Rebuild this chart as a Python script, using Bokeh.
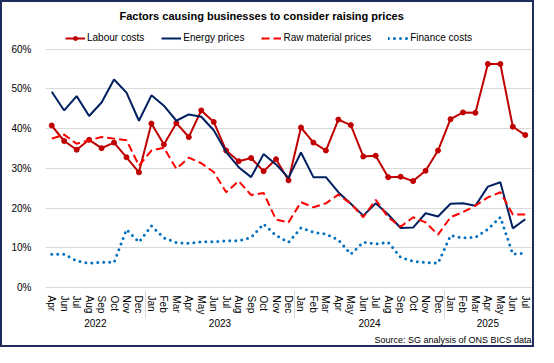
from bokeh.plotting import figure
from bokeh.models import (FactorRange, ColumnDataSource, Legend, LegendItem, Title,
                          FixedTicker, PrintfTickFormatter, Range1d)
from bokeh.embed import file_html
from bokeh.resources import INLINE

FONT = "Liberation Sans"

years = ["2022"] * 8 + ["2023"] * 12 + ["2024"] * 12 + ["2025"] * 7
months = (["Apr", "Jun", "Jul", "Aug", "Sep", "Oct", "Nov", "Dec"]
          + ["Jan", "Feb", "Mar", "Apr", "May", "Jun", "Jul", "Aug", "Sep", "Oct", "Nov", "Dec"]
          + ["Jan", "Feb", "Mar", "Apr", "May", "Jun", "Jul", "Aug", "Sep", "Oct", "Nov", "Dec"]
          + ["Jan", "Feb", "Mar", "Apr", "May", "Jun", "Jul"])

labour = [40.8, 36.9, 34.7, 37.2, 35.1, 36.5, 32.8, 29.0,
          41.3, 36.0, 41.4, 37.9, 44.6, 41.7, 34.5, 31.8, 32.6, 29.3, 32.3, 27.0,
          40.3, 36.5, 34.5, 42.3, 40.9, 33.0, 33.2, 27.8, 27.9, 26.8, 29.4, 34.5,
          42.4, 44.1, 44.0, 56.3, 56.3, 40.5, 38.4]
energy = [49.3, 44.6, 48.2, 43.2, 46.6, 52.4, 49.1, 42.0,
          48.4, 45.8, 42.0, 43.6, 43.0, 39.6, 34.1, 30.3, 27.8, 33.6, 31.0, 27.6,
          34.0, 27.8, 27.8, 24.0, 21.1, 18.1, 21.2, 18.4, 15.0, 15.1, 18.7, 17.9,
          21.1, 21.2, 20.6, 25.4, 26.5, 14.9, 17.2]
raw = [37.5, 38.5, 36.2, 37.1, 37.9, 37.5, 37.1, 30.7,
       34.5, 35.2, 29.9, 32.7, 31.3, 29.1, 24.0, 26.8, 23.3, 23.8, 17.1, 16.4,
       21.5, 20.2, 21.2, 23.4, 21.1, 17.7, 22.1, 17.7, 15.3, 17.7, 16.4, 13.3,
       17.7, 19.0, 20.6, 22.7, 24.0, 18.4, 18.4]
finance = [8.4, 8.4, 6.7, 6.1, 6.4, 6.3, 14.6, 11.4,
           15.5, 12.5, 11.3, 11.1, 11.5, 11.5, 11.8, 11.8, 12.6, 16.0, 13.1, 11.4,
           15.0, 13.9, 13.5, 12.0, 8.4, 11.4, 11.0, 11.4, 7.6, 6.6, 6.3, 6.1,
           13.1, 12.5, 12.6, 14.7, 17.7, 8.4, 8.6]
y_ticks = [0, 10, 20, 30, 40, 50, 60]

x = list(zip(years, months))
src = ColumnDataSource(dict(x=x, labour=labour, energy=energy, raw=raw, finance=finance))

p = figure(width=530, height=343, output_backend="svg", toolbar_location=None,
           x_range=FactorRange(factors=x, group_padding=0, range_padding=0),
           y_range=Range1d(0, 67),
           min_border_left=43, min_border_right=5, min_border_top=19, min_border_bottom=10)
p.styles = {"border": "2px solid #1F2D5C", "box-sizing": "content-box"}
p.outline_line_color = None
p.background_fill_color = "white"
p.border_fill_color = "white"

p.title.text = "Factors causing businesses to consider raising prices"
p.title.text_font = FONT
p.title.text_font_size = "11px"
p.title.text_font_style = "bold"
p.title.align = "left"
p.title.offset = 74
p.title.standoff = 0
p.title.text_color = "black"

p.xgrid.visible = False
p.ygrid.grid_line_color = "#D9D9D9"
p.ygrid.grid_line_width = 1

ax = p.xaxis[0]
ax.axis_line_color = "#D9D9D9"
ax.major_tick_line_color = None
ax.minor_tick_line_color = None
ax.major_label_orientation = "vertical"
ax.major_label_text_font = FONT
ax.major_label_text_font_size = "10px"
ax.major_label_text_color = "black"
ax.major_label_standoff = 2
ax.group_text_font = FONT
ax.group_text_font_size = "10px"
ax.group_text_font_style = "normal"
ax.group_text_color = "black"
ax.separator_line_color = "#D9D9D9"
ax.separator_line_width = 1

ay = p.yaxis[0]
ay.ticker = FixedTicker(ticks=y_ticks)
ay.formatter = PrintfTickFormatter(format="%d%%")
ay.axis_line_color = None
ay.major_tick_line_color = None
ay.minor_tick_line_color = None
ay.major_label_text_font = FONT
ay.major_label_text_font_size = "10px"
ay.major_label_text_color = "black"
ay.major_label_standoff = 8

r_lab = p.line("x", "labour", source=src, line_color="#C00000", line_width=2)
r_labm = p.scatter("x", "labour", source=src, size=5, fill_color="#C00000", line_color="#C00000")
r_en = p.line("x", "energy", source=src, line_color="#002060", line_width=2)
r_raw = p.line("x", "raw", source=src, line_color="#FF0000", line_width=2, line_dash="8 4")
r_fin = p.line("x", "finance", source=src, line_color="#0070C0", line_width=3,
               line_dash="0 6", line_cap="round")

legend = Legend(items=[
    LegendItem(label="Labour costs", renderers=[r_lab, r_labm]),
    LegendItem(label="Energy prices", renderers=[r_en]),
    LegendItem(label="Raw material prices", renderers=[r_raw]),
    LegendItem(label="Finance costs", renderers=[r_fin]),
], orientation="horizontal", location=(20, 244))
legend.label_text_font = FONT
legend.label_text_font_size = "10px"
legend.label_text_color = "black"
legend.glyph_width = 20
legend.glyph_height = 10
legend.label_standoff = 2
legend.spacing = 17
legend.padding = 2
legend.margin = 0
legend.border_line_color = None
legend.background_fill_alpha = 0
p.add_layout(legend, "center")

source_note = Title(text="Source: SG analysis of ONS BICS data", align="right",
                    text_font=FONT, text_font_size="9px", text_font_style="normal",
                    text_color="black", standoff=7, vertical_align="middle")
p.add_layout(source_note, "below")

open("out.html", "w").write(file_html(p, INLINE))
